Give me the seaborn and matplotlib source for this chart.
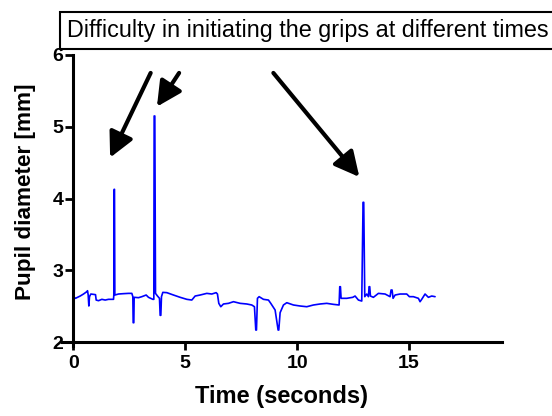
import numpy as np
import pandas as pd
import matplotlib
matplotlib.use("Agg")
import matplotlib.pyplot as plt
import seaborn as sns

# ---- data ----
time_s = [0.015, 0.104, 0.193, 0.3125, 0.461, 0.610, 0.640, 0.670, 0.699, 0.729,
          0.789, 0.908, 0.997, 1.027, 1.131, 1.280, 1.429, 1.577, 1.726, 1.801,
          1.815, 1.830, 1.845, 1.860, 2.024, 2.247, 2.470, 2.619, 2.664, 2.679,
          2.708, 2.723, 2.917, 3.065, 3.259, 3.363, 3.557, 3.601, 3.616, 3.646,
          3.676, 3.765, 3.854, 3.884, 3.914, 3.943, 4.003, 4.182, 4.479, 4.777,
          5.074, 5.298, 5.446, 5.670, 5.967, 6.190, 6.384, 6.443, 6.503, 6.592,
          6.711, 6.935, 7.158, 7.455, 7.753, 7.976, 8.095, 8.155, 8.185, 8.229,
          8.304, 8.497, 8.720, 8.824, 9.018, 9.152, 9.182, 9.241, 9.390, 9.539,
          9.836, 10.134, 10.432, 10.729, 11.027, 11.324, 11.622, 11.875, 11.905, 11.935,
          11.964, 12.217, 12.485, 12.589, 12.738, 12.887, 12.946, 12.976, 13.021, 13.110,
          13.185, 13.214, 13.244, 13.274, 13.408, 13.631, 13.929, 14.152, 14.196, 14.241,
          14.286, 14.375, 14.598, 14.896, 15.015, 15.193, 15.417, 15.491, 15.565, 15.714,
          15.863, 16.012, 16.161]
pupil_mm = [2.632, 2.609, 2.623, 2.641, 2.669, 2.702, 2.715, 2.655, 2.502, 2.632,
            2.669, 2.664, 2.660, 2.585, 2.576, 2.595, 2.585, 2.595, 2.595, 2.595,
            2.655, 4.128, 4.128, 2.655, 2.669, 2.674, 2.678, 2.678, 2.632, 2.269,
            2.269, 2.623, 2.618, 2.632, 2.655, 2.623, 2.595, 2.595, 5.150, 5.150,
            2.678, 2.641, 2.609, 2.372, 2.372, 2.632, 2.692, 2.688, 2.655, 2.623,
            2.595, 2.585, 2.641, 2.655, 2.678, 2.669, 2.688, 2.669, 2.539, 2.492,
            2.530, 2.539, 2.562, 2.539, 2.530, 2.516, 2.492, 2.167, 2.167, 2.609,
            2.632, 2.595, 2.585, 2.539, 2.446, 2.167, 2.167, 2.409, 2.516, 2.548,
            2.516, 2.502, 2.492, 2.516, 2.530, 2.539, 2.525, 2.516, 2.771, 2.771,
            2.609, 2.609, 2.623, 2.641, 2.585, 2.571, 3.947, 3.947, 2.632, 2.669,
            2.632, 2.771, 2.771, 2.641, 2.623, 2.678, 2.669, 2.632, 2.725, 2.725,
            2.609, 2.655, 2.669, 2.669, 2.632, 2.632, 2.609, 2.562, 2.595, 2.669,
            2.623, 2.641, 2.632]
x_ticks = [0, 5, 10, 15]
y_ticks = [2, 3, 4, 5, 6]
title_text = "Difficulty in initiating the grips at different times"
x_label = "Time (seconds)"
y_label = "Pupil diameter [mm]"
# arrows: (tail_x, tail_y, tip_x, tip_y) in data units
arrow_tails_x = [3.46, 4.73, 8.94]
arrow_tails_y = [5.75, 5.75, 5.75]
arrow_tips_x = [1.65, 3.74, 12.78]
arrow_tips_y = [4.57, 5.28, 4.30]

df = pd.DataFrame({"t": time_s, "d": pupil_mm})

sns.set_theme(style="ticks")
plt.rcParams["font.family"] = ["Liberation Sans", "DejaVu Sans"]
plt.rcParams["text.color"] = "black"
plt.rcParams["axes.labelcolor"] = "black"
plt.rcParams["xtick.color"] = "black"
plt.rcParams["ytick.color"] = "black"

fig = plt.figure(figsize=(5.52, 4.16), dpi=100)
ax = fig.add_axes([0.1123, 0.1692, 0.7971, 0.6986])

sns.lineplot(data=df, x="t", y="d", ax=ax, estimator=None, sort=False,
             color="#0000ff", linewidth=1.2)

for side in ["top", "right"]:
    ax.spines[side].set_visible(False)
ax.spines["left"].set_position(("data", 0))
ax.spines["bottom"].set_position(("data", 2))
for side in ["left", "bottom"]:
    ax.spines[side].set_linewidth(2.2)
    ax.spines[side].set_color("black")

ax.set_xlim(-0.5, 19.15)
ax.set_ylim(1.95, 6)
ax.set_xticks(x_ticks)
ax.set_yticks(y_ticks)
ax.tick_params(axis="both", direction="out", length=6, width=2, color="black",
               labelcolor="black", labelsize=14)
ax.tick_params(axis="y", pad=1)
ax.tick_params(axis="x", pad=3)
ax.set_xticklabels([str(v) for v in x_ticks], fontsize=14, fontweight="bold")
ax.set_yticklabels([str(v) for v in y_ticks], fontsize=14, fontweight="bold")

ax.set_xlabel(x_label, fontsize=17, fontweight="bold", labelpad=10, color="black")
ax.set_ylabel(y_label, fontsize=16.2, fontweight="bold", color="black")
ax.yaxis.set_label_coords(-0.058, 0.53)

for tx, ty, hx, hy in zip(arrow_tails_x, arrow_tails_y, arrow_tips_x, arrow_tips_y):
    ax.annotate("", xy=(hx, hy), xytext=(tx, ty),
                arrowprops=dict(arrowstyle="-|>,head_length=0.75,head_width=0.38",
                                mutation_scale=20, lw=3, color="black",
                                shrinkA=0, shrinkB=0))

fig.text(67 / 552, 1 - 30 / 416, title_text, fontsize=16.8, ha="left", va="center",
         color="black",
         bbox=dict(boxstyle="square,pad=0.3", facecolor="white",
                   edgecolor="black", linewidth=1.5))

fig.savefig("out.png", dpi=100)
